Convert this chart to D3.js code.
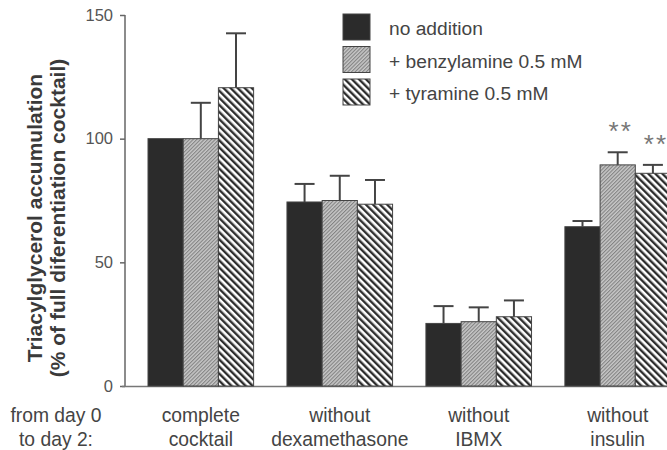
<!DOCTYPE html>
<html>
<head>
<meta charset="utf-8">
<script src="https://cdn.jsdelivr.net/npm/d3@7"></script>
<style>
  body { margin: 0; background: #fff; }
  text { font-family: "Liberation Sans", Arial, sans-serif; fill: #444; }
</style>
</head>
<body>
<div id="chart"></div>
<script>
// values
var categories = ["complete cocktail", "without dexamethasone", "without IBMX", "without insulin"];
var categoryLines = [["complete", "cocktail"], ["without", "dexamethasone"], ["without", "IBMX"], ["without", "insulin"]];
var seriesNames = ["no addition", "+ benzylamine 0.5 mM", "+ tyramine 0.5 mM"];
var noAddition = [100, 74.4, 25.3, 64.4];
var noAdditionErr = [0, 7.3, 7.0, 2.3];
var benzylamine = [100, 75, 26, 89.4];
var benzylamineErr = [14.5, 10, 5.8, 5.1];
var tyramine = [120.6, 73.5, 28, 86];
var tyramineErr = [22, 9.8, 6.6, 3.4];
var significant = [[false, false, false], [false, false, false], [false, false, false], [false, true, true]];
var yTicks = [0, 50, 100, 150];

var width = 667, height = 450;
var svg = d3.select("#chart").append("svg")
    .attr("width", width)
    .attr("height", height);

var defs = svg.append("defs");

// fine "/" hatch for benzylamine
var p1 = defs.append("pattern")
    .attr("id", "hatchFine")
    .attr("patternUnits", "userSpaceOnUse")
    .attr("width", 2.6).attr("height", 10)
    .attr("patternTransform", "rotate(45)");
p1.append("rect").attr("width", 2.6).attr("height", 10).style("fill", "#c8c8c8");
p1.append("rect").attr("width", 1.1).attr("height", 10).style("fill", "#828282");

// bold "\" stripes for tyramine
var p2 = defs.append("pattern")
    .attr("id", "hatchBold")
    .attr("patternUnits", "userSpaceOnUse")
    .attr("width", 5).attr("height", 10)
    .attr("patternTransform", "rotate(-45)");
p2.append("rect").attr("width", 5).attr("height", 10).style("fill", "#fff");
p2.append("rect").attr("width", 2.4).attr("height", 10).style("fill", "#2e2e2e");

var fills = ["#2b2b2b", "url(#hatchFine)", "url(#hatchBold)"];

var y = d3.scaleLinear().domain([0, 150]).range([386, 15]);

var x0 = d3.scaleBand()
    .domain(categories)
    .range([148, 670.5])
    .paddingInner(0.24)
    .paddingOuter(0);

var x1 = d3.scaleBand()
    .domain(seriesNames)
    .range([0, x0.bandwidth()]);

var rows = categories.map(function(c, i) {
  return [
    {cat: c, s: seriesNames[0], v: noAddition[i], e: noAdditionErr[i], k: 0, star: significant[i][0]},
    {cat: c, s: seriesNames[1], v: benzylamine[i], e: benzylamineErr[i], k: 1, star: significant[i][1]},
    {cat: c, s: seriesNames[2], v: tyramine[i], e: tyramineErr[i], k: 2, star: significant[i][2]}
  ];
});

// axes
var yAxis = svg.append("g")
    .attr("transform", "translate(125,0)")
    .call(d3.axisLeft(y).tickValues(yTicks).tickSize(5).tickPadding(7));
yAxis.select(".domain").attr("d", "M0," + y(150) + "V" + (y(0) + 1));
yAxis.selectAll("line, path").style("stroke", "#666").style("stroke-width", 1.5);
yAxis.selectAll("text").style("font-size", "16.5px").style("fill", "#555")
    .style("font-family", "'Liberation Sans', Arial, sans-serif");

svg.append("line")
    .attr("x1", 122).attr("x2", width)
    .attr("y1", y(0) + 0.5).attr("y2", y(0) + 0.5)
    .style("stroke", "#777").style("stroke-width", 1.5);

// bars
var groups = svg.selectAll(".group")
    .data(rows)
  .enter().append("g")
    .attr("class", "group")
    .attr("transform", function(d) { return "translate(" + x0(d[0].cat) + ",0)"; });

groups.selectAll("rect")
    .data(function(d) { return d; })
  .enter().append("rect")
    .attr("x", function(d) { return x1(d.s); })
    .attr("width", x1.bandwidth())
    .attr("y", function(d) { return y(d.v); })
    .attr("height", function(d) { return y(0) - y(d.v); })
    .style("fill", function(d) { return fills[d.k]; })
    .style("stroke", "#444")
    .style("stroke-width", 1);

// error bars
var err = groups.selectAll(".err")
    .data(function(d) { return d.filter(function(r) { return r.e > 0; }); })
  .enter().append("g")
    .attr("class", "err")
    .attr("transform", function(d) { return "translate(" + (x1(d.s) + x1.bandwidth() / 2) + ",0)"; });
err.append("line")
    .attr("y1", function(d) { return y(d.v); })
    .attr("y2", function(d) { return y(d.v + d.e); });
err.append("line")
    .attr("x1", -10).attr("x2", 10)
    .attr("y1", function(d) { return y(d.v + d.e); })
    .attr("y2", function(d) { return y(d.v + d.e); });
err.selectAll("line").style("stroke", "#444").style("stroke-width", 2);

// significance stars
groups.selectAll(".star")
    .data(function(d) { return d.filter(function(r) { return r.star; }); })
  .enter().append("text")
    .attr("class", "star")
    .attr("x", function(d) { return x1(d.s) + x1.bandwidth() / 2 + 3; })
    .attr("y", function(d) { return y(d.v + d.e) - 12; })
    .attr("text-anchor", "middle")
    .style("font-size", "26px")
    .style("letter-spacing", "2px")
    .style("fill", "#777")
    .text("**");

// category labels
var labels = svg.selectAll(".cat")
    .data(categoryLines)
  .enter().append("text")
    .attr("class", "cat")
    .attr("text-anchor", "middle")
    .attr("x", function(d, i) { return x0(categories[i]) + x0.bandwidth() / 2; })
    .attr("y", 422)
    .style("font-size", "19.3px");
labels.selectAll("tspan")
    .data(function(d) { return d; })
  .enter().append("tspan")
    .attr("x", function() { return d3.select(this.parentNode).attr("x"); })
    .attr("dy", function(d, i) { return i ? 24 : 0; })
    .text(function(d) { return d; });

var fromLabel = svg.append("text")
    .attr("text-anchor", "middle")
    .attr("x", 56).attr("y", 422)
    .style("font-size", "19.3px");
fromLabel.append("tspan").attr("x", 56).text("from day 0");
fromLabel.append("tspan").attr("x", 56).attr("dy", 24).text("to day 2:");

// y axis title
var title = svg.append("text")
    .attr("transform", "translate(0,218) rotate(-90)")
    .attr("text-anchor", "middle")
    .style("font-size", "21px")
    .style("font-weight", "bold")
    .style("fill", "#3a3a3a");
title.append("tspan").attr("x", 0).attr("y", 42).text("Triacylglycerol accumulation");
title.append("tspan").attr("x", 0).attr("y", 65).text("(% of full diferentiation cocktail)");

// legend
var legend = svg.selectAll(".legend")
    .data(seriesNames)
  .enter().append("g")
    .attr("class", "legend")
    .attr("transform", function(d, i) { return "translate(343," + (14 + i * 32.5) + ")"; });
legend.append("rect")
    .attr("width", 27).attr("height", 26)
    .style("fill", function(d, i) { return fills[i]; })
    .style("stroke", "#444").style("stroke-width", 1);
legend.append("text")
    .attr("x", 46).attr("y", 21)
    .style("font-size", "19.2px")
    .text(function(d) { return d; });
</script>
</body>
</html>
